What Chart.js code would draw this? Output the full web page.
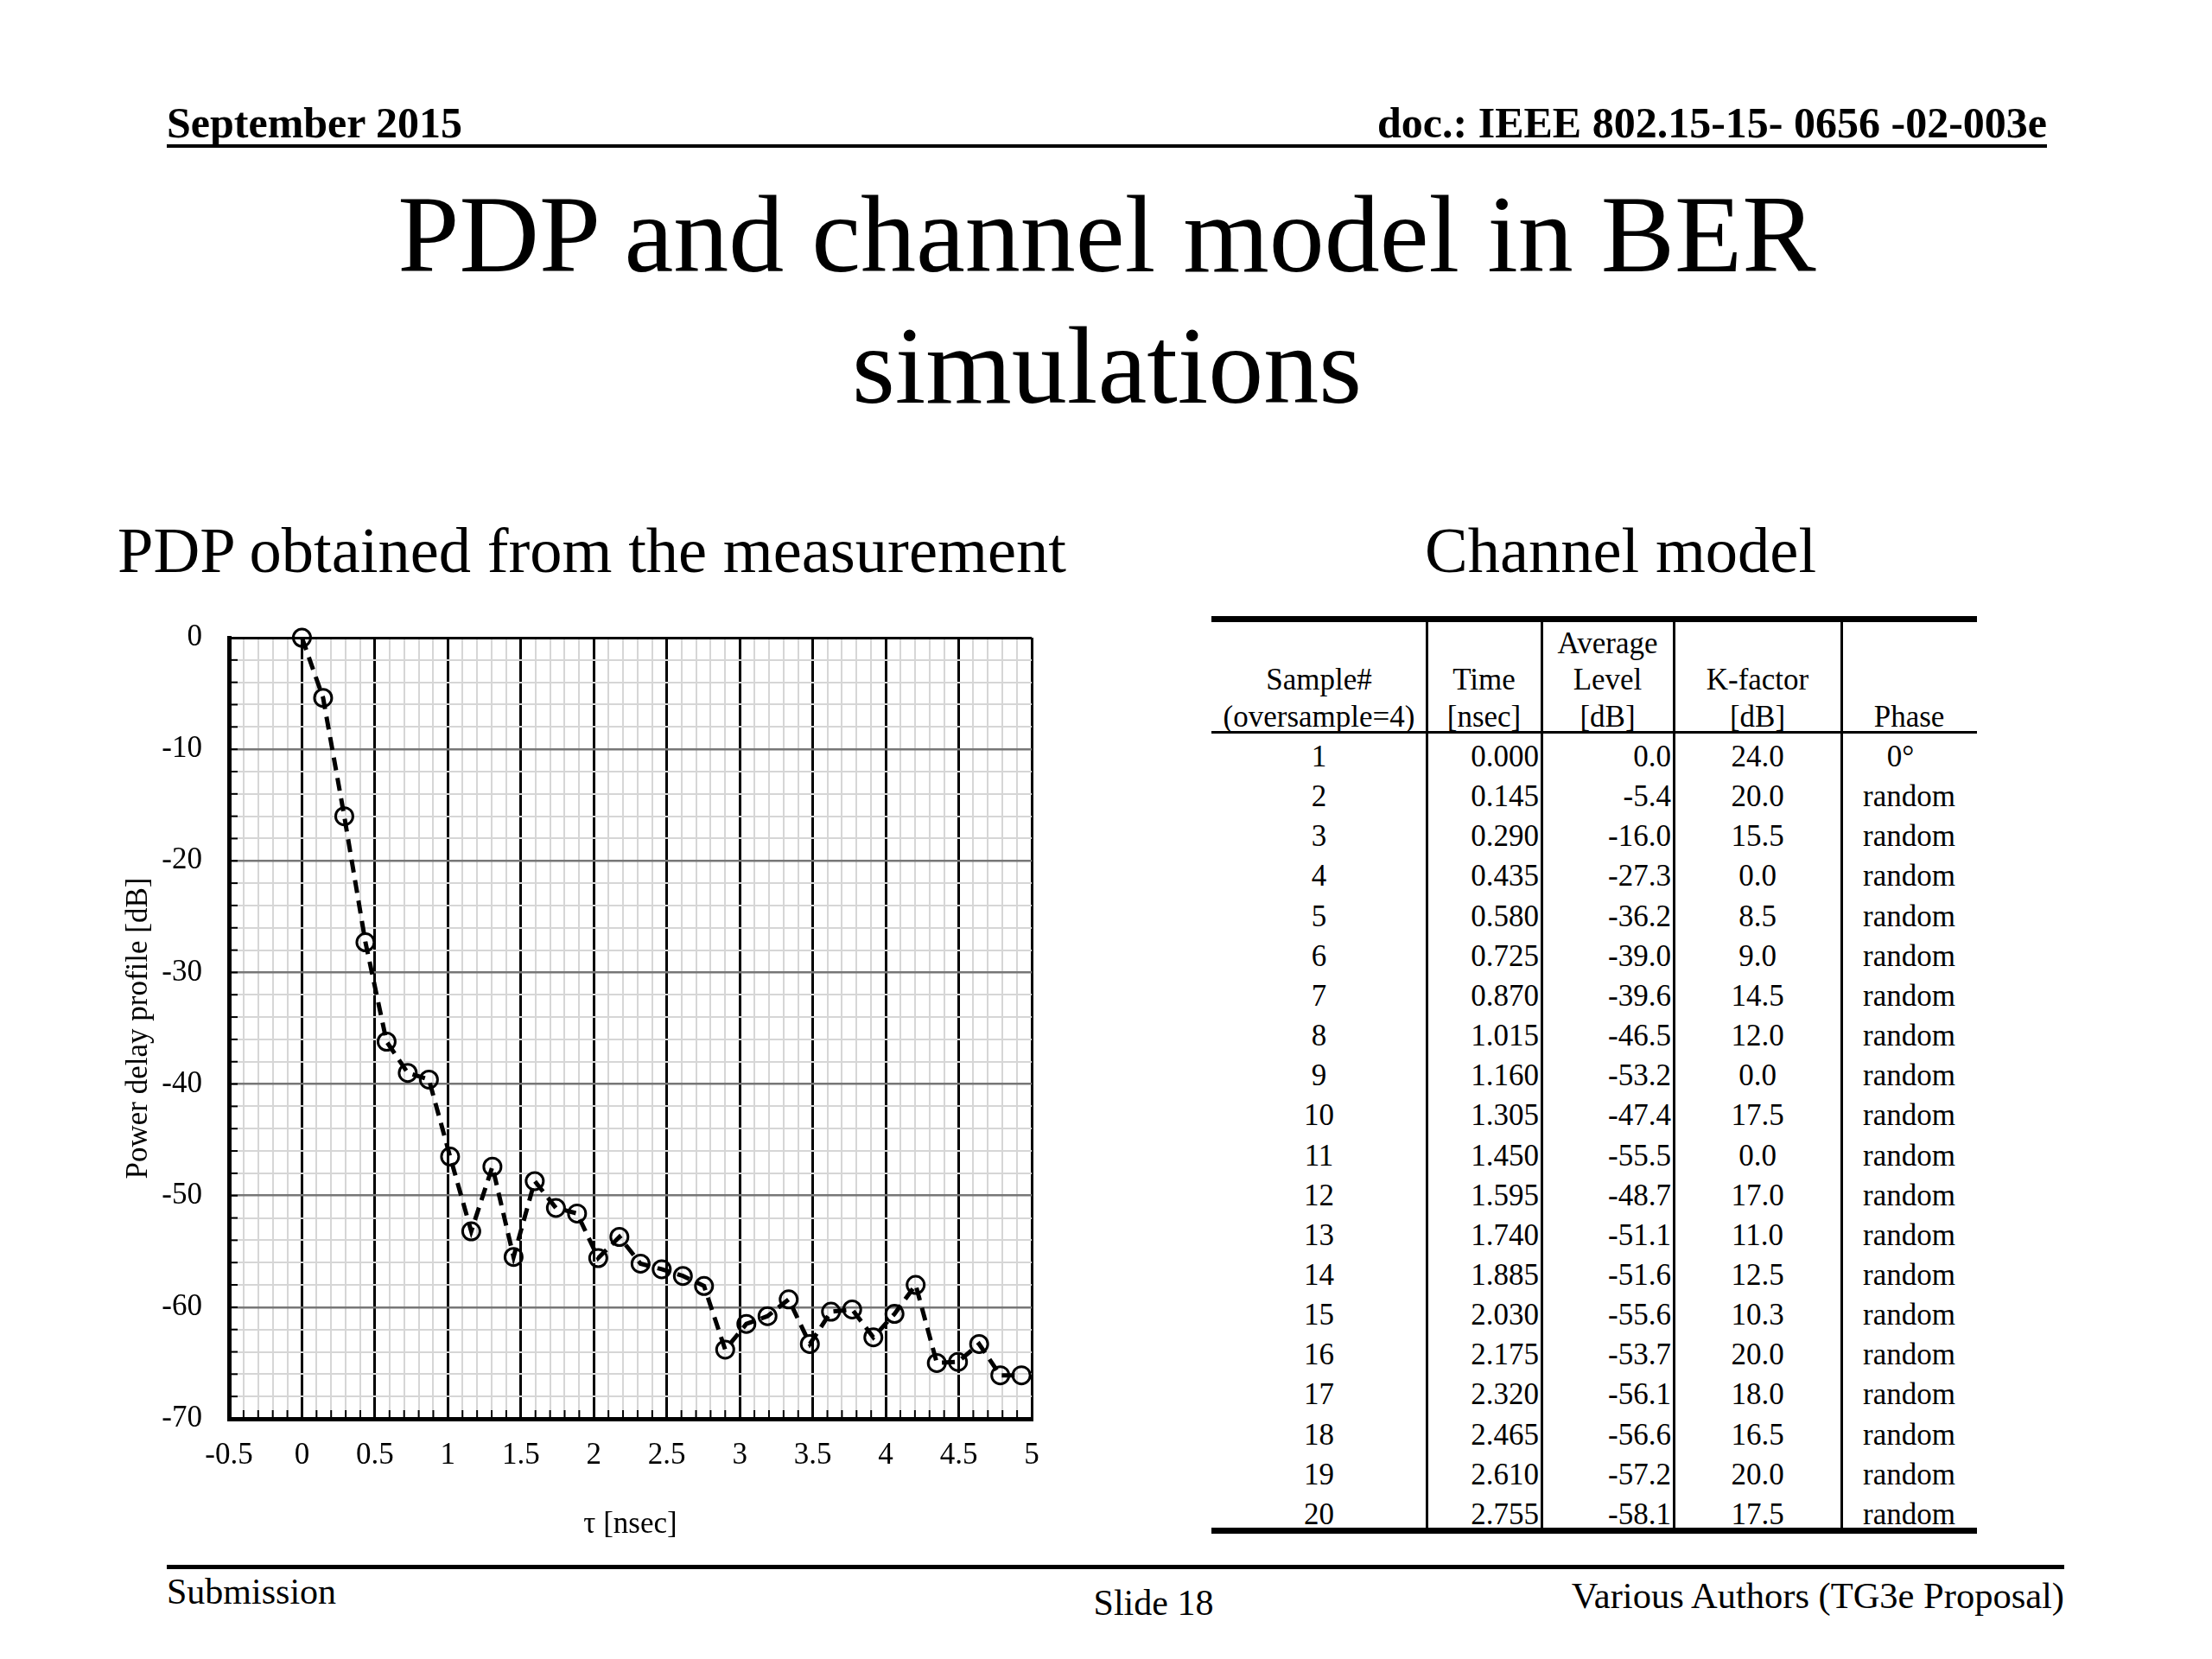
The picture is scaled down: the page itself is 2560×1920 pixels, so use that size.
<!DOCTYPE html>
<html><head><meta charset="utf-8">
<script src="https://cdn.jsdelivr.net/npm/chart.js@4.4.1/dist/chart.umd.min.js"></script>
<style>
html,body{margin:0;padding:0;background:#fff;}
#page{position:relative;width:2560px;height:1920px;overflow:hidden;font-family:"Liberation Serif","Times New Roman",serif;color:#000;background:#fff;}
.t{position:absolute;white-space:nowrap;}
.rule{position:absolute;background:#000;}
#chartBox{position:absolute;left:130px;top:686px;width:1100px;height:1124px;}
</style></head><body>
<div id="page">
  <div class="t" style="left:193px;top:112px;font-size:50px;line-height:60px;font-weight:bold;">September 2015</div>
  <div class="t" style="right:191px;top:112px;font-size:50px;line-height:60px;font-weight:bold;text-align:right;">doc.: IEEE 802.15-15- 0656 -02-003e</div>
  <div class="rule" style="left:193px;top:167px;width:2176px;height:4px;"></div>
  <div class="t" style="left:0;width:2562px;top:195px;font-size:128px;line-height:152px;text-align:center;">PDP and channel model in BER<br>simulations</div>
  <div class="t" style="left:136px;top:592px;font-size:74.5px;line-height:90px;">PDP obtained from the measurement</div>
  <div class="t" style="left:1649px;top:592px;font-size:74.5px;line-height:90px;">Channel model</div>
  <div id="chartBox"><canvas id="c" width="1100" height="1124"></canvas></div>
  <div id="table"></div>
  <div class="rule" style="left:193px;top:1811px;width:2196px;height:5px;"></div>
  <div class="t" style="left:193px;top:1817px;font-size:42px;line-height:50px;">Submission</div>
  <div class="t" style="left:1135px;width:400px;top:1830px;font-size:42px;line-height:50px;text-align:center;">Slide 18</div>
  <div class="t" style="right:171px;top:1822px;font-size:42.5px;line-height:50px;text-align:right;">Various Authors (TG3e Proposal)</div>
</div>
<script>
// ---- chart data ----
const tau = [0.000,0.145,0.290,0.435,0.580,0.725,0.870,1.015,1.160,1.305,1.450,1.595,1.740,1.885,2.030,2.175,2.320,2.465,2.610,2.755,
             2.900,3.045,3.190,3.335,3.480,3.625,3.770,3.915,4.060,4.205,4.350,4.495,4.640,4.785,4.930];
const level = [0.0,-5.4,-16.0,-27.3,-36.2,-39.0,-39.6,-46.5,-53.2,-47.4,-55.5,-48.7,-51.1,-51.6,-55.6,-53.7,-56.1,-56.6,-57.2,-58.1,
               -63.8,-61.5,-60.8,-59.3,-63.3,-60.4,-60.2,-62.7,-60.6,-58.0,-65.0,-64.9,-63.3,-66.1,-66.1];
const xAxisTitle = "τ [nsec]";
const yAxisTitle = "Power delay profile [dB]";

// ---- table data ----
const sampleNo = [1,2,3,4,5,6,7,8,9,10,11,12,13,14,15,16,17,18,19,20];
const timeLabels = ["0.000","0.145","0.290","0.435","0.580","0.725","0.870","1.015","1.160","1.305","1.450","1.595","1.740","1.885","2.030","2.175","2.320","2.465","2.610","2.755"];
const levelLabels = ["0.0","-5.4","-16.0","-27.3","-36.2","-39.0","-39.6","-46.5","-53.2","-47.4","-55.5","-48.7","-51.1","-51.6","-55.6","-53.7","-56.1","-56.6","-57.2","-58.1"];
const kFactor = ["24.0","20.0","15.5","0.0","8.5","9.0","14.5","12.0","0.0","17.5","0.0","17.0","11.0","12.5","10.3","20.0","18.0","16.5","20.0","17.5"];
const phase = ["0°","random","random","random","random","random","random","random","random","random","random","random","random","random","random","random","random","random","random","random"];
const headers = [
  ["", "Sample#", "(oversample=4)"],
  ["", "Time", "[nsec]"],
  ["Average", "Level", "[dB]"],
  ["", "K-factor", "[dB]"],
  ["", "", "Phase"]
];

// ---- table layout ----
const tbl = document.getElementById('table');
const colEdges = [1402, 1651, 1784, 1937, 2131, 2288];
const colAlign = ["center","right","right","center","center"];
const tFont = 35;
function addText(txt, left, width, centerY, align){
  const d = document.createElement('div');
  d.className = 't';
  d.style.left = left + 'px';
  d.style.width = width + 'px';
  d.style.top = (centerY - 23) + 'px';
  d.style.height = '46px';
  d.style.lineHeight = '46px';
  d.style.fontSize = tFont + 'px';
  d.style.textAlign = align;
  d.textContent = txt;
  tbl.appendChild(d);
}
function addRule(l,t,w,h){
  const d = document.createElement('div');
  d.className='rule';
  d.style.left=l+'px'; d.style.top=t+'px'; d.style.width=w+'px'; d.style.height=h+'px';
  tbl.appendChild(d);
}
const headY = [745, 787, 830];
headers.forEach((h,ci)=>{
  h.forEach((txt,li)=>{ if (txt) addText(txt, colEdges[ci], colEdges[ci+1]-colEdges[ci], headY[li], "center"); });
});
const cols = [sampleNo.map(String), timeLabels, levelLabels, kFactor, phase];
for (let r=0; r<20; r++){
  const cy = 876 + 46.15*r;
  cols.forEach((arr,ci)=>{
    const l = colEdges[ci], w = colEdges[ci+1]-colEdges[ci];
    if (colAlign[ci]==="right") addText(arr[r], l, w-3, cy, "right");
    else if (ci===4 && r===0) addText(arr[r], l, w-20, cy, "center");
    else addText(arr[r], l, w, cy, "center");
  });
}
addRule(1402, 713, 886, 7);
addRule(1402, 846, 886, 3);
addRule(1402, 1768, 886, 7);
[1651,1784,1937,2131].forEach(x=>addRule(x-1.5, 716, 3, 1055));

// ---- chart ----
const fam = '"Liberation Serif","Times New Roman",serif';
const isHalf = v => Math.abs(v*2 - Math.round(v*2)) < 1e-6;
const isTen = v => Math.abs(v/10 - Math.round(v/10)) < 1e-6;

const innerTicks = {
  id:'innerTicks',
  beforeDatasetsDraw(chart){
    const {ctx, chartArea:a, scales:{x,y}} = chart;
    ctx.save(); ctx.strokeStyle='#000'; ctx.lineWidth=2;
    x.ticks.forEach(t=>{const px=x.getPixelForValue(t.value); ctx.beginPath(); ctx.moveTo(px,a.bottom); ctx.lineTo(px,a.bottom-10); ctx.stroke();});
    y.ticks.forEach(t=>{const py=y.getPixelForValue(t.value); ctx.beginPath(); ctx.moveTo(a.left,py); ctx.lineTo(a.left+10,py); ctx.stroke();});
    ctx.restore();
  }
};

new Chart(document.getElementById('c'), {
  type:'scatter',
  data:{datasets:[{
    data: tau.map((t,i)=>({x:t, y:level[i]})),
    showLine:true,
    borderColor:'#000', borderWidth:5, borderDash:[15,9],
    pointRadius:10, pointBorderWidth:3, pointBorderColor:'#000',
    pointBackgroundColor:'rgba(0,0,0,0)', pointStyle:'circle',
    tension:0, clip:false
  }]},
  options:{
    responsive:false, animation:false,
    layout:{padding:{top:0,right:36,bottom:0,left:0}},
    plugins:{legend:{display:false}, tooltip:{enabled:false}},
    scales:{
      x:{
        type:'linear', min:-0.5, max:5,
        ticks:{stepSize:0.1, autoSkip:false, maxRotation:0, minRotation:0, padding:22, color:'#000',
               font:{family:fam, size:35},
               callback:v => isHalf(v) ? String(Math.round(v*10)/10) : ''},
        grid:{drawTicks:false,
              color:c => isHalf(c.tick.value) ? '#000' : '#d6d6d6',
              lineWidth:c => isHalf(c.tick.value) ? 3 : 2},
        border:{display:true, color:'#000', width:5},
        title:{display:true, text:xAxisTitle, color:'#000', font:{family:fam, size:35}, padding:{top:0,bottom:24}},
        afterFit:s => { s.height = 168; }
      },
      y:{
        type:'linear', min:-70, max:0,
        ticks:{stepSize:2, autoSkip:false, padding:31, color:'#000',
               font:{family:fam, size:35},
               callback:v => isTen(v) ? String(Math.round(v)) : ''},
        grid:{drawTicks:false,
              color:c => isTen(c.tick.value) ? (c.tick.value===0 ? '#000' : '#777') : '#d6d6d6',
              lineWidth:c => isTen(c.tick.value) ? (c.tick.value===0 ? 3 : 2.5) : 2},
        border:{display:true, color:'#000', width:5},
        title:{display:true, text:yAxisTitle, color:'#000', font:{family:fam, size:35}, padding:{top:10,bottom:0}},
        afterFit:s => { s.width = 135; }
      }
    }
  },
  plugins:[innerTicks]
});
</script>
</body></html>
